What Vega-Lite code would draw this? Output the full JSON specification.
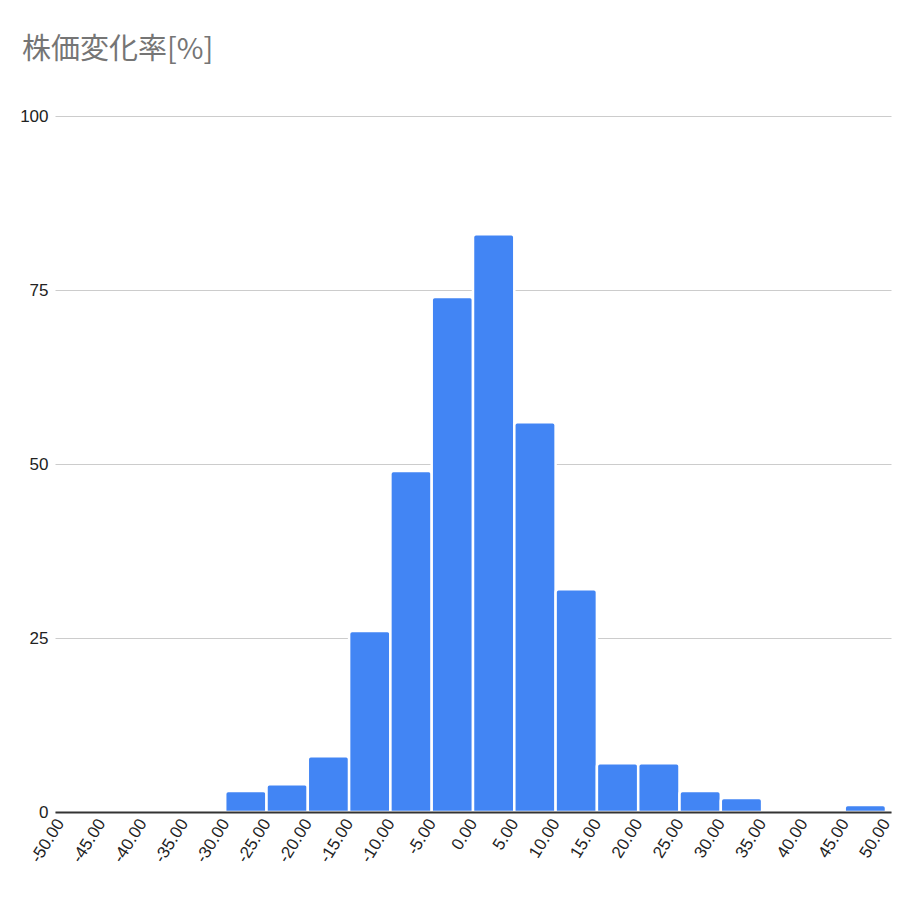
{
  "$schema": "https://vega.github.io/schema/vega-lite/v6.json",
  "autosize": "none",
  "width": 836,
  "height": 696,
  "padding": {"left": 55, "top": 116, "right": 27, "bottom": 106},
  "background": "white",
  "title": {
    "text": "株価変化率[%]",
    "anchor": "start",
    "frame": "group",
    "dx": -33,
    "offset": 42,
    "font": "Noto Sans CJK JP",
    "fontSize": 29,
    "fontWeight": "normal",
    "color": "#757575"
  },
  "data": {
    "values": [
      {"bin_start": -50, "bin_end": -45, "count": 0},
      {"bin_start": -45, "bin_end": -40, "count": 0},
      {"bin_start": -40, "bin_end": -35, "count": 0},
      {"bin_start": -35, "bin_end": -30, "count": 0},
      {"bin_start": -30, "bin_end": -25, "count": 3},
      {"bin_start": -25, "bin_end": -20, "count": 4},
      {"bin_start": -20, "bin_end": -15, "count": 8},
      {"bin_start": -15, "bin_end": -10, "count": 26},
      {"bin_start": -10, "bin_end": -5, "count": 49},
      {"bin_start": -5, "bin_end": 0, "count": 74},
      {"bin_start": 0, "bin_end": 5, "count": 83},
      {"bin_start": 5, "bin_end": 10, "count": 56},
      {"bin_start": 10, "bin_end": 15, "count": 32},
      {"bin_start": 15, "bin_end": 20, "count": 7},
      {"bin_start": 20, "bin_end": 25, "count": 7},
      {"bin_start": 25, "bin_end": 30, "count": 3},
      {"bin_start": 30, "bin_end": 35, "count": 2},
      {"bin_start": 35, "bin_end": 40, "count": 0},
      {"bin_start": 40, "bin_end": 45, "count": 0},
      {"bin_start": 45, "bin_end": 50, "count": 1}
    ]
  },
  "mark": {
    "type": "bar",
    "orient": "vertical",
    "color": "#4285F4",
    "stroke": "white",
    "strokeWidth": 2.5,
    "cornerRadiusTopLeft": 3,
    "cornerRadiusTopRight": 3
  },
  "encoding": {
    "x": {
      "field": "bin_start",
      "type": "quantitative",
      "scale": {"domain": [-50, 50], "nice": false, "zero": false},
      "axis": {
        "title": null,
        "values": [-50, -45, -40, -35, -30, -25, -20, -15, -10, -5, 0, 5, 10, 15, 20, 25, 30, 35, 40, 45, 50],
        "labelExpr": "replace(format(datum.value, '.2f'), '\u2212', '-')",
        "labelAngle": -58,
        "labelAlign": "right",
        "labelBaseline": "middle",
        "labelPadding": 8,
        "labelFont": "Liberation Sans Narrow, Liberation Sans",
        "labelFontSize": 17,
        "labelColor": "#222222",
        "labelOverlap": false,
        "labelFlush": false,
        "ticks": false,
        "grid": false,
        "domain": true,
        "domainColor": "#333333",
        "domainWidth": 2,
        "zindex": 1
      }
    },
    "x2": {"field": "bin_end"},
    "y": {
      "field": "count",
      "type": "quantitative",
      "stack": null,
      "scale": {"domain": [0, 100], "nice": false, "padding": 0},
      "axis": {
        "title": null,
        "values": [0, 25, 50, 75, 100],
        "labelFont": "Liberation Sans Narrow, Liberation Sans",
        "labelFontSize": 17,
        "labelColor": "#222222",
        "labelPadding": 7,
        "ticks": false,
        "domain": false,
        "grid": true,
        "gridColor": "#cccccc",
        "gridWidth": 1
      }
    },
    "y2": {"datum": 0}
  },
  "config": {"view": {"stroke": null}}
}
